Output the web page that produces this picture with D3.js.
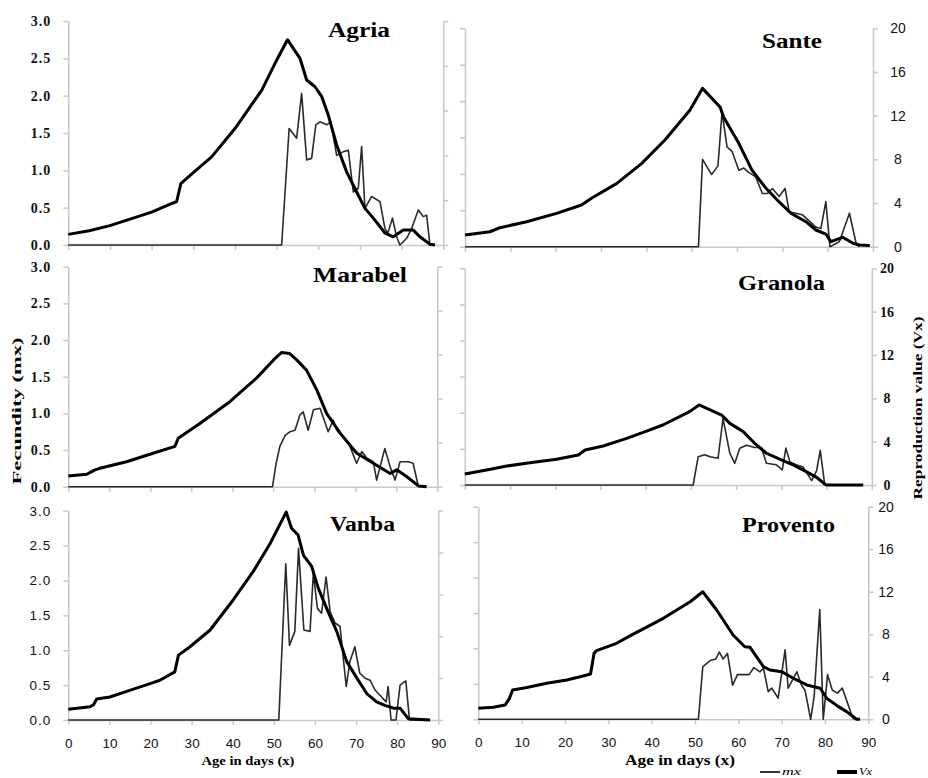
<!DOCTYPE html>
<html>
<head>
<meta charset="utf-8">
<script src="https://cdn.jsdelivr.net/npm/d3@7"></script>
<style>
  body { margin: 0; background: #fff; }
</style>
</head>
<body>
<div id="chart"></div>
<script>
// age ticks and axis ticks
var dayTicks = [0, 10, 20, 30, 40, 50, 60, 70, 80, 90];
var mxTicks = [0, 0.5, 1, 1.5, 2, 2.5, 3];
var vxTicks = [0, 4, 8, 12, 16, 20];

// [age in days, value]; mx on 0-3, Vx on 0-20
var agriaMx = [[0,0],[51.2,0],[53,1.56],[54.8,1.43],[56,2.03],[57.2,1.14],[58.4,1.16],[59.4,1.61],[60.4,1.65],[62,1.61],[63,1.65],[64.4,1.2],[66,1.25],[67.2,1.27],[68.4,0.71],[69.6,0.76],[70.4,1.32],[71.2,0.49],[72.8,0.65],[74.8,0.58],[76,0.22],[76.7,0.16],[77.8,0.36],[78.8,0.11],[79.6,0],[81.2,0.09],[82.4,0.22],[84,0.47],[85.2,0.38],[86,0.4],[86.8,0]];
var agriaVx = [[0,0.95],[5,1.27],[10,1.73],[15,2.33],[20,2.93],[25,3.73],[26,3.87],[27,5.47],[30,6.47],[34.4,7.87],[40,10.4],[46.4,13.8],[50,16.5],[52.6,18.33],[55.6,16.67],[57.2,14.73],[59.2,14.13],[60.8,13.27],[62.4,11.6],[64.4,8.93],[66.8,6.53],[69.2,4.73],[71.2,3.27],[73.2,2.4],[76,1.07],[78,0.73],[80.4,1.33],[82.8,1.33],[84.4,0.73],[86.8,0.07],[88,0]];

var santeMx = [[0,0],[51.5,0],[52.4,1.2],[54.4,0.99],[55.8,1.11],[56.7,1.85],[57.8,1.37],[58.9,1.31],[60.4,1.05],[61.5,1.08],[62.6,1.02],[64.1,0.96],[65.6,0.73],[66.7,0.73],[67.8,0.8],[69.3,0.69],[70.6,0.8],[71.5,0.48],[74.4,0.44],[77.4,0.27],[78.5,0.25],[79.6,0.62],[80.5,0],[82.6,0.07],[84.8,0.46],[86.3,0.04],[87,0]];
var santeVx = [[0,1.07],[5.5,1.37],[7.7,1.74],[13.6,2.29],[20.2,3.05],[25.7,3.82],[27.9,4.43],[33.5,5.8],[39,7.63],[44.1,9.77],[49.6,12.5],[52.4,14.5],[56.3,12.77],[57,11.9],[60.4,9.47],[63.3,7.02],[66.3,5.4],[69.3,4.1],[71.9,3.06],[75.2,2.29],[77.4,1.53],[79.6,1.16],[80.7,0.46],[83.3,0.86],[85.6,0.31],[87,0.15],[89.3,0.1]];

var marabelMx = [[0,0],[49.8,0],[50.7,0.32],[51.6,0.55],[52.9,0.7],[54.1,0.75],[55.3,0.77],[56.5,0.98],[57.3,1.02],[58.5,0.77],[59.8,1.05],[61.4,1.07],[63.4,0.75],[64.6,0.91],[65.5,0.77],[67,0.68],[68.7,0.55],[70.3,0.32],[71.6,0.48],[72.8,0.39],[74.4,0.34],[75.2,0.09],[77.2,0.52],[78.5,0.27],[79.7,0.09],[80.9,0.34],[82.9,0.34],[84.1,0.32],[85.4,0]];
var marabelVx = [[0,0.97],[4.5,1.13],[6.5,1.53],[7.7,1.67],[14.2,2.27],[20.3,3.0],[26,3.67],[26.8,4.4],[32,5.73],[39.4,7.73],[45.9,9.87],[50,11.5],[52,12.2],[54,12.1],[55.7,11.53],[58.1,10.6],[60.6,8.8],[63,6.67],[66.3,4.87],[70.3,3.07],[74.4,2.13],[78.5,1.2],[80.1,1.53],[82.5,0.93],[85.4,0.07],[87.4,0]];

var granolaMx = [[0,0],[50.5,0],[51.6,0.39],[53.1,0.42],[54.2,0.39],[56,0.37],[57.1,0.92],[58.6,0.44],[59.7,0.3],[60.8,0.51],[62.3,0.55],[64.1,0.52],[65.6,0.52],[66.7,0.3],[68.9,0.28],[70.2,0.21],[71,0.51],[71.9,0.32],[73.3,0.28],[74.8,0.25],[76.7,0.06],[77.8,0.2],[78.6,0.48],[79.6,0],[88,0]];
var granolaVx = [[0,1.02],[4.8,1.38],[9.3,1.75],[14.4,2.06],[20.3,2.37],[25.1,2.77],[26.6,3.23],[30.6,3.6],[35.8,4.31],[40.2,4.98],[43.8,5.54],[49.7,6.77],[51.8,7.39],[56.8,6.46],[58.6,5.69],[61.5,4.95],[64.1,3.85],[66.7,2.93],[70,2.31],[72.6,1.85],[75.5,1.23],[77.8,0.71],[79.6,0.09],[80,0],[88.1,0]];

var vanbaMx = [[0,0],[51.2,0],[52.9,2.24],[53.8,1.07],[55.1,1.27],[56,2.46],[57.3,1.29],[58.8,1.27],[59.6,2.1],[60.6,1.6],[61.6,1.53],[62.7,2.05],[63.7,1.55],[64.9,1.39],[66.1,1.34],[67.6,0.48],[68.5,0.84],[69.7,1.05],[70.9,0.67],[72.2,0.6],[73.4,0.57],[74.6,0.43],[76.2,0.33],[77.3,0.26],[77.8,0.48],[78.5,0],[79.7,0],[80.7,0.5],[82.1,0.56],[83,0],[88,0]];
var vanbaVx = [[0,1.02],[5.3,1.27],[6.1,1.43],[6.9,2.0],[10.1,2.2],[14.2,2.73],[19.9,3.47],[22.3,3.8],[25.9,4.6],[26.8,6.2],[29.6,7.0],[34.5,8.6],[40.1,11.47],[45,14.2],[49.1,16.87],[53,19.87],[54.3,18.33],[55.9,17.67],[57.2,15.73],[59.2,14.67],[60.8,12.6],[63.2,10.33],[65.3,8.47],[67.7,5.6],[70.2,4.0],[72.6,2.53],[75,1.73],[77,1.4],[79.1,1.13],[80.7,1.13],[82.7,0.13],[88,0]];

var proventoMx = [[0,0],[50.8,0],[51.8,0.74],[53.5,0.83],[54.8,0.85],[55.6,0.95],[56.5,0.85],[57.5,0.93],[58.7,0.48],[59.8,0.63],[62.5,0.63],[63.6,0.73],[65,0.67],[65.8,0.72],[66.9,0.39],[67.7,0.44],[69.2,0.3],[70.8,0.98],[71.5,0.44],[73.5,0.67],[74.6,0.48],[75.4,0.41],[76.7,0],[77.5,0.32],[78.8,1.55],[79.6,0],[80.6,0.63],[81.7,0.41],[82.9,0.37],[84,0.44],[86.3,0.04],[86.7,0]];
var proventoVx = [[0,1.03],[3.5,1.13],[6.2,1.35],[7.2,1.97],[7.9,2.76],[11.2,3.0],[15.8,3.39],[20.4,3.7],[23.5,4.0],[25.9,4.26],[26.7,6.2],[27.3,6.46],[31.9,7.15],[35,7.85],[42.7,9.5],[48.9,11.06],[51.8,12.0],[55,10.28],[58.8,7.93],[61.5,6.83],[62.7,6.77],[65.8,4.95],[67.3,4.64],[70,4.48],[72.7,3.86],[75.8,3.23],[78.9,2.92],[80.4,1.98],[83.1,1.19],[85,0.72],[87.3,0],[88.1,0]];

var serif = "'Liberation Serif', 'Times New Roman', serif",
    sans = "'Liberation Sans', Arial, sans-serif";

// each panel was pasted separately, so each has its own frame
var panels = [
  {name: "Agria", mx: agriaMx, vx: agriaVx, x0: 68.3, x1: 443.3, yTop: 21, yZero: 245,
   side: "left", font: serif, xLabels: false, tx: 359, ty: 37, tw: 62},
  {name: "Sante", mx: santeMx, vx: santeVx, x0: 465, x1: 873, yTop: 28.3, yZero: 246.7,
   side: "right", font: sans, labelX: 898, xLabels: false, tx: 792, ty: 48, tw: 60},
  {name: "Marabel", mx: marabelMx, vx: marabelVx, x0: 68.3, x1: 437.3, yTop: 266.7, yZero: 486.7,
   side: "left", font: serif, xLabels: false, tx: 360, ty: 282, tw: 94},
  {name: "Granola", mx: granolaMx, vx: granolaVx, x0: 464.8, x1: 871.8, yTop: 268.3, yZero: 485,
   side: "right", font: serif, labelX: 887, xLabels: false, tx: 781.5, ty: 290, tw: 87},
  {name: "Vanba", mx: vanbaMx, vx: vanbaVx, x0: 68.3, x1: 438.3, yTop: 510.7, yZero: 720,
   side: "left", font: sans, xLabels: true, tx: 362.5, ty: 531, tw: 65},
  {name: "Provento", mx: proventoMx, vx: proventoVx, x0: 478.3, x1: 868.3, yTop: 506.7, yZero: 719.3,
   side: "right", font: sans, labelX: 886, xLabels: true, tx: 788.5, ty: 532, tw: 93}
];

var svg = d3.select("#chart")
    .append("svg")
    .attr("width", 928)
    .attr("height", 778);

function styleAxis(g) {
    g.attr("font-size", null).attr("font-family", null);
    g.select(".domain").attr("stroke", "#c8c8c8").attr("stroke-width", 1.5);
    g.selectAll(".tick line").attr("stroke", "#c8c8c8").attr("stroke-width", 1.5);
    g.selectAll("text").attr("fill", "#111");
}

panels.forEach(function (p) {
    var x = d3.scaleLinear().domain([0, 90]).range([p.x0, p.x1]);
    var yL = d3.scaleLinear().domain([0, 3]).range([p.yZero, p.yTop]);
    var yR = d3.scaleLinear().domain([0, 20]).range([p.yZero, p.yTop]);
    var g = svg.append("g").attr("class", "panel");
    var bold = p.font === serif ? "bold" : "normal";

    // x axis
    var xAxis = d3.axisBottom(x).tickValues(dayTicks).tickSize(5).tickSizeOuter(0);
    if (!p.xLabels) xAxis.tickFormat("");
    var gx = g.append("g")
        .attr("transform", "translate(0," + p.yZero + ")")
        .call(xAxis)
        .call(styleAxis);
    gx.selectAll("text")
        .attr("y", 28).attr("dy", null)
        .attr("font-family", sans).attr("font-size", 13.5);

    // left axis (mx)
    var lAxis = d3.axisLeft(yL).tickValues(mxTicks).tickSize(5).tickSizeOuter(0).tickPadding(12);
    if (p.side === "left") lAxis.tickFormat(d3.format(".1f")); else lAxis.tickFormat("");
    g.append("g")
        .attr("transform", "translate(" + p.x0 + ",0)")
        .call(lAxis)
        .call(styleAxis)
        .selectAll("text")
        .attr("font-family", p.font)
        .attr("font-weight", bold)
        .attr("font-size", p.font === serif ? 14 : 13.5)
        .attr("letter-spacing", 1);

    // right axis (Vx)
    var rAxis = d3.axisRight(yR).tickValues(vxTicks).tickSize(5).tickSizeOuter(0);
    if (p.side === "right") rAxis.tickFormat(d3.format("d")); else rAxis.tickFormat("");
    g.append("g")
        .attr("transform", "translate(" + p.x1 + ",0)")
        .call(rAxis)
        .call(styleAxis)
        .selectAll("text")
        .attr("text-anchor", "middle")
        .attr("x", p.labelX - p.x1)
        .attr("font-family", p.font)
        .attr("font-weight", bold)
        .attr("font-size", 14);

    var mxLine = d3.line()
        .x(function (d) { return x(d[0]); })
        .y(function (d) { return yL(d[1]); });
    var vxLine = d3.line()
        .x(function (d) { return x(d[0]); })
        .y(function (d) { return yR(d[1]); });

    g.append("path")
        .datum(p.mx)
        .attr("d", mxLine)
        .attr("fill", "none")
        .attr("stroke", "#2a2a2a")
        .attr("stroke-width", 1.6)
        .attr("stroke-linejoin", "round");

    g.append("path")
        .datum(p.vx)
        .attr("d", vxLine)
        .attr("fill", "none")
        .attr("stroke", "#000")
        .attr("stroke-width", 3)
        .attr("stroke-linejoin", "round");

    g.append("text")
        .attr("x", p.tx)
        .attr("y", p.ty)
        .attr("text-anchor", "middle")
        .attr("font-family", serif)
        .attr("font-weight", "bold")
        .attr("font-size", 20)
        .attr("textLength", p.tw)
        .attr("lengthAdjust", "spacingAndGlyphs")
        .text(p.name);
});

// axis titles
svg.append("text")
    .attr("transform", "translate(21,411) rotate(-90)")
    .attr("text-anchor", "middle")
    .attr("font-family", serif).attr("font-weight", "bold").attr("font-size", 13)
    .attr("textLength", 147).attr("lengthAdjust", "spacingAndGlyphs")
    .text("Fecundity (mx)");

svg.append("text")
    .attr("transform", "translate(922,408) rotate(-90)")
    .attr("text-anchor", "middle")
    .attr("font-family", serif).attr("font-weight", "bold").attr("font-size", 13)
    .attr("textLength", 183).attr("lengthAdjust", "spacingAndGlyphs")
    .text("Reproduction value (Vx)");

svg.append("text")
    .attr("x", 248).attr("y", 765)
    .attr("text-anchor", "middle")
    .attr("font-family", serif).attr("font-weight", "bold").attr("font-size", 12)
    .attr("textLength", 93).attr("lengthAdjust", "spacingAndGlyphs")
    .text("Age in days (x)");

svg.append("text")
    .attr("x", 680).attr("y", 765)
    .attr("text-anchor", "middle")
    .attr("font-family", serif).attr("font-weight", "bold").attr("font-size", 14)
    .attr("textLength", 110).attr("lengthAdjust", "spacingAndGlyphs")
    .text("Age in days (x)");

// legend
var legend = [
  {label: "mx", x: 760, w: 1.6, tw: 19},
  {label: "Vx", x: 837, w: 4, tw: 13}
];
var lg = svg.append("g").selectAll("g")
    .data(legend)
    .enter().append("g");
lg.append("line")
    .attr("x1", function (d) { return d.x; })
    .attr("x2", function (d) { return d.x + 20; })
    .attr("y1", 772).attr("y2", 772)
    .attr("stroke", "#000")
    .attr("stroke-width", function (d) { return d.w; });
lg.append("text")
    .attr("x", function (d) { return d.x + 22; })
    .attr("y", 775)
    .attr("font-family", serif).attr("font-style", "italic").attr("font-size", 11)
    .attr("textLength", function (d) { return d.tw; })
    .attr("lengthAdjust", "spacingAndGlyphs")
    .text(function (d) { return d.label; });
</script>
</body>
</html>
